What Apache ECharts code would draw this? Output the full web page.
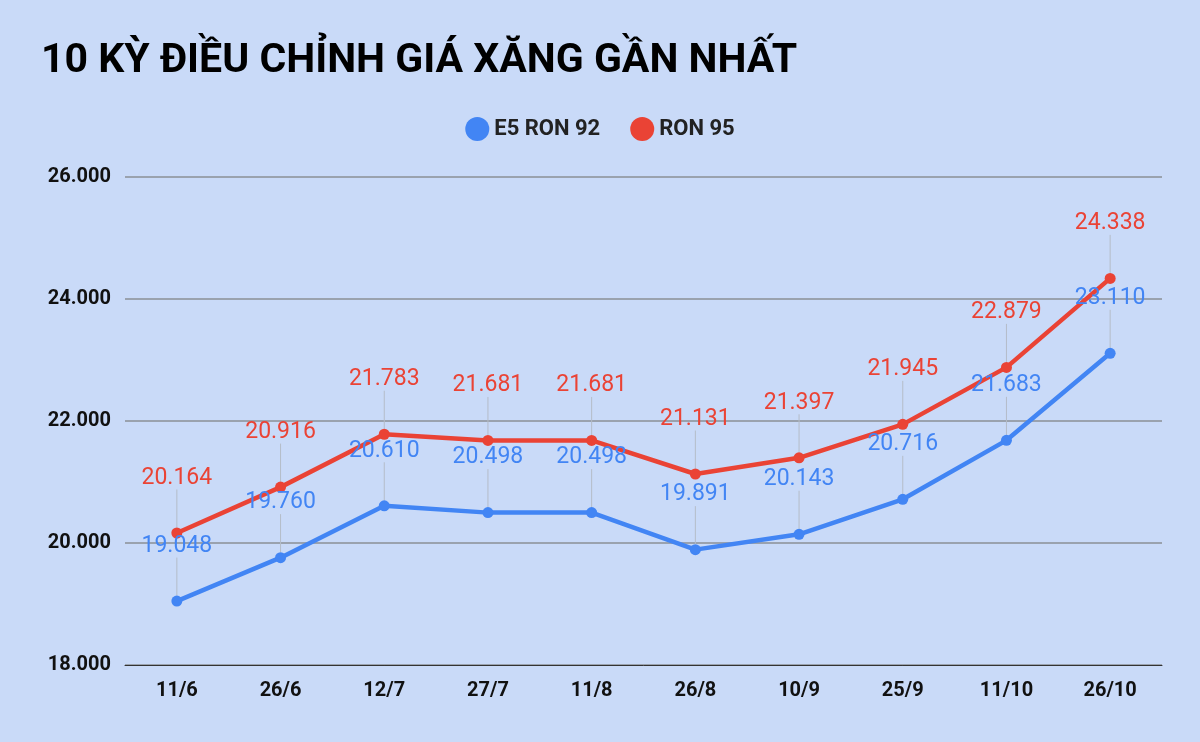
<!DOCTYPE html>
<html><head><meta charset="utf-8">
<script src="https://cdn.jsdelivr.net/npm/echarts@6/dist/echarts.min.js"></script>
<style>html,body{margin:0;padding:0;background:#c9daf8;}#c{width:1200px;height:742px;}</style>
</head><body><div id="c"></div>
<script>
const categories = ['11/6','26/6','12/7','27/7','11/8','26/8','10/9','25/9','11/10','26/10'];
const e5ron92 = [19048,19760,20610,20498,20498,19891,20143,20716,21683,23110];
const ron95 = [20164,20916,21783,21681,21681,21131,21397,21945,22879,24338];
const fmt = v => (v/1000).toFixed(3);
const chart = echarts.init(document.getElementById('c'));
function ser(name, data, color){
  return {name, type:'line', data, color, symbol:'circle', symbolSize:11,
    lineStyle:{width:4.5, color}, itemStyle:{color},
    label:{show:true, position:'top', distance:6, color, fontSize:23, fontFamily:'Roboto',
      formatter:p=>fmt(p.value)},
    labelLayout:{dy:-32},
    labelLine:{show:true, lineStyle:{color:'#b4bcc8', width:1}}};
}
chart.setOption({
  backgroundColor:'#c9daf8',
  title:{text:'10 KỲ ĐIỀU CHỈNH GIÁ XĂNG GẦN NHẤT', left:36, top:36,
    textStyle:{fontSize:41, fontWeight:'bold', color:'#000', fontFamily:'Roboto'}},
  legend:{top:112, left:'center', itemGap:30, icon:'circle', itemWidth:24, itemHeight:24,
    textStyle:{fontSize:22, fontWeight:'bold', color:'#222', fontFamily:'Roboto'}},
  grid:{left:125, right:38, top:177, bottom:77},
  xAxis:{type:'category', data:categories, axisTick:{show:false},
    axisLine:{lineStyle:{color:'#333', width:1}},
    axisLabel:{fontSize:20, fontWeight:'bold', color:'#111', margin:16, fontFamily:'Roboto'}},
  yAxis:{type:'value', min:18000, max:26000, interval:2000,
    axisLabel:{fontSize:20, fontWeight:'bold', color:'#111', margin:14, fontFamily:'Roboto',
      formatter:v=>fmt(v)},
    splitLine:{lineStyle:{color:'#9aa2ae', width:2}}},
  series:[ser('E5 RON 92', e5ron92, '#4285f4'), ser('RON 95', ron95, '#ea4335')]
});
</script></body></html>
